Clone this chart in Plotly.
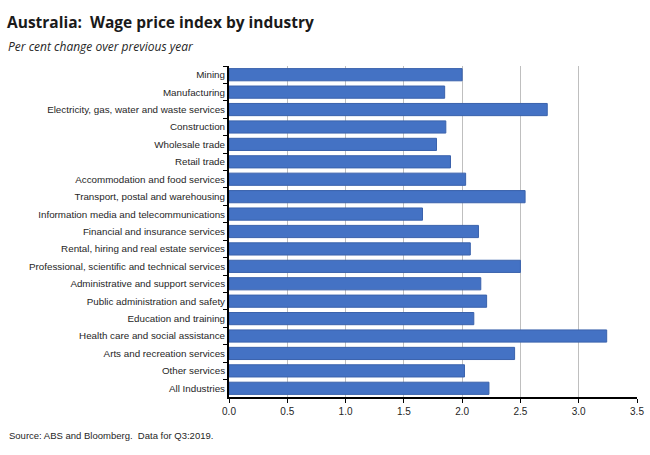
import plotly.graph_objects as go

# industries top to bottom as in the chart
industries = [
    'Mining',
    'Manufacturing',
    'Electricity, gas, water and waste services',
    'Construction',
    'Wholesale trade',
    'Retail trade',
    'Accommodation and food services',
    'Transport, postal and warehousing',
    'Information media and telecommunications',
    'Financial and insurance services',
    'Rental, hiring and real estate services',
    'Professional, scientific and technical services',
    'Administrative and support services',
    'Public administration and safety',
    'Education and training',
    'Health care and social assistance',
    'Arts and recreation services',
    'Other services',
    'All Industries',
]
wpi_change = [2.00, 1.85, 2.73, 1.86, 1.78, 1.90, 2.03, 2.54, 1.66, 2.14,
              2.07, 2.50, 2.16, 2.21, 2.10, 3.24, 2.45, 2.02, 2.23]
x_ticks = [0.0, 0.5, 1.0, 1.5, 2.0, 2.5, 3.0, 3.5]

FONT = 'Liberation Sans'
W, H = 650, 455
L, R, T, B = 229, 13, 66, 58

fig = go.Figure(go.Bar(
    x=wpi_change,
    y=industries,
    orientation='h',
    marker=dict(color='#4472C4', line=dict(color='#3A62AC', width=1)),
    width=0.7,
))

# pixel -> paper coords for the text blocks
pw, ph = W - L - R, H - T - B
def px(x): return (x - L) / pw
def py(y): return (H - B - y) / ph

fig.update_layout(
    width=W,
    height=H,
    autosize=False,
    margin={'l': L, 'r': R, 't': T, 'b': B, 'pad': 0},
    paper_bgcolor='white',
    plot_bgcolor='white',
    showlegend=False,
    font=dict(family=FONT, color='#262626', size=10),
    annotations=[
        dict(text='<b>Australia:  Wage price index by industry</b>', xref='paper', yref='paper',
             x=px(5), y=py(22), xanchor='left', yanchor='middle', showarrow=False,
             font=dict(family='Open Sans', size=15.5, color='#1a1a1a')),
        dict(text='<i>Per cent change over previous year</i>', xref='paper', yref='paper',
             x=px(6), y=py(47), xanchor='left', yanchor='middle', showarrow=False,
             font=dict(family='Open Sans', size=12, color='#262626')),
        dict(text='Source: ABS and Bloomberg.  Data for Q3:2019.', xref='paper', yref='paper',
             x=px(7), y=py(435), xanchor='left', yanchor='middle', showarrow=False,
             font=dict(family=FONT, size=9.5, color='#262626')),
    ],
)

fig.update_xaxes(
    range=[0, 3.5],
    tickvals=x_ticks,
    ticktext=[f'{v:.1f}' for v in x_ticks],
    showgrid=True,
    gridcolor='#BFBFBF',
    gridwidth=1,
    showline=True,
    linecolor='black',
    linewidth=2,
    ticks='outside',
    ticklen=4,
    tickcolor='black',
    tickfont=dict(size=10),
    zeroline=False,
    automargin=False,
)
fig.update_yaxes(
    autorange='reversed',
    type='category',
    showline=True,
    linecolor='black',
    linewidth=2,
    ticks='outside',
    tickson='boundaries',
    ticklen=4,
    tickcolor='black',
    tickfont=dict(size=9.8),
    showgrid=False,
    automargin=False,
)

# drop the browser's default body margin so the figure sits at 0,0
fig.write_html('out.html', config={'displayModeBar': False},
               post_script="document.body.style.margin='0';")
